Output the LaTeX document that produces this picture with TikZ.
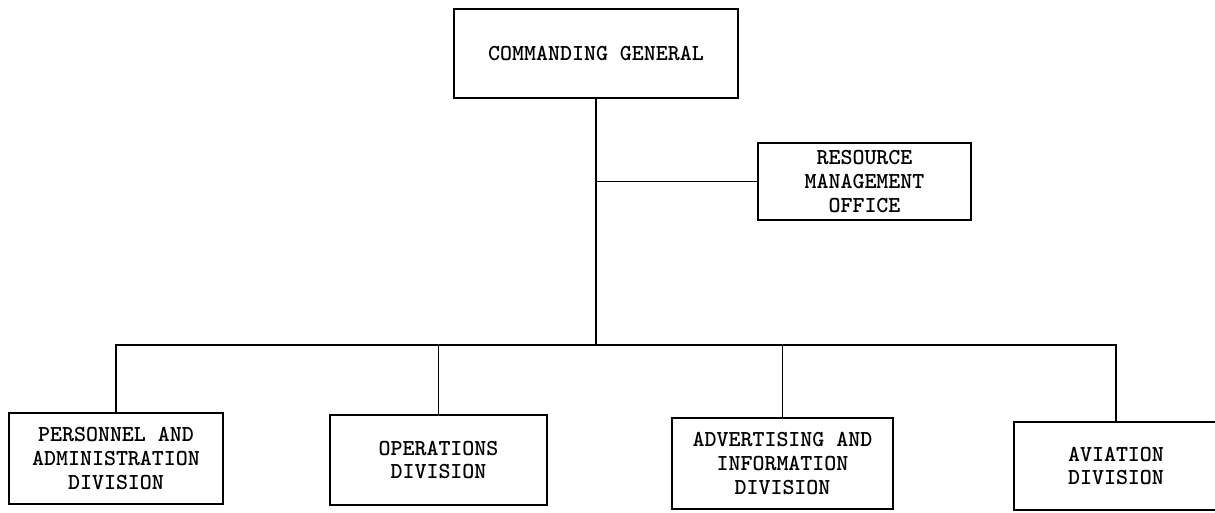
\documentclass[tikz,border=0pt]{standalone}

\begin{document}
\begin{tikzpicture}[x=0.02cm, y=-0.02cm, line width=0.8pt,
    unit/.style={draw, align=center, inner sep=0pt,
      font=\fontsize{13}{13.6}\selectfont\ttfamily\bfseries}]
    \useasboundingbox (0,0) rectangle (1215,512);

    \node[unit, minimum width=5.68cm, minimum height=1.78cm] (cg) at (596, 53.5) {COMMANDING GENERAL};
    \node[unit, minimum width=4.26cm, minimum height=1.54cm] (rmo) at (864.5, 181.5) {RESOURCE\\MANAGEMENT\\OFFICE};

    \node[unit, minimum width=4.28cm, minimum height=1.82cm] (pad) at (116, 458.5) {PERSONNEL AND\\ADMINISTRATION\\DIVISION};
    \node[unit, minimum width=4.34cm, minimum height=1.80cm] (ops) at (438.5, 460) {OPERATIONS\\DIVISION};
    \node[unit, minimum width=4.42cm, minimum height=1.82cm] (adv) at (782.5, 463.5) {ADVERTISING AND\\INFORMATION\\DIVISION};
    \node[unit, minimum width=4.08cm, minimum height=1.76cm] (avi) at (1116, 466) {AVIATION\\DIVISION};

    \coordinate (bar) at (596, 345);

    \draw (cg.south) -- (bar);
    \draw (rmo.west) -- (rmo.west -| cg.south);
    \draw (pad.north) |- (bar) -| (avi.north);
    \draw (ops.north) -- (ops.north |- bar);
    \draw (adv.north) -- (adv.north |- bar);
\end{tikzpicture}
\end{document}
